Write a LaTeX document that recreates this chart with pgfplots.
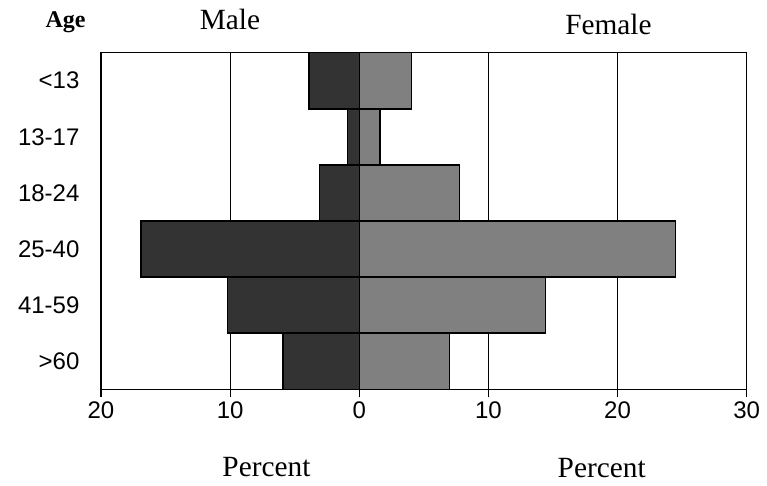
\documentclass[border=0pt]{standalone}
\usepackage{fontspec}
\setmainfont{Liberation Serif}
\setsansfont{Liberation Sans}
\usepackage{pgfplots}
\pgfplotsset{compat=1.18}
\definecolor{malegray}{HTML}{333333}
\definecolor{femalegray}{HTML}{808080}

\begin{document}
\begin{tikzpicture}[x=1pt,y=1pt]
% page = 767x485 px at 0.75pt/px, axis box at origin
\useasboundingbox (-75.75,-71.8) rectangle (499.5,292);
\begin{axis}[
  at={(0,0)}, anchor=south west,
  scale only axis, width=484.3pt, height=252.5pt,
  xmin=-20, xmax=30, ymin=-0.5, ymax=5.5,
  xtick={-20,-10,0,10,20,30}, xticklabels={20,10,0,10,20,30},
  ytick={0,1,2,3,4,5}, yticklabels={>60,41-59,25-40,18-24,13-17,<13},
  tick label style={font=\fontsize{18}{21}\selectfont\sffamily},
  xticklabel style={inner sep=0pt, anchor=north, yshift=-3pt},
  yticklabel style={inner sep=0pt, anchor=east, xshift=-10pt},
  tick align=outside, major tick length=6pt,
  xtick pos=lower, ytick style={draw=none},
  xtick style={black, line width=0.8pt},
  xmajorgrids, grid style={black, line width=0.6pt},
  axis line style={black, line width=1.1pt},
  xbar, bar width=1, bar shift=0pt,
]
% male (left, negative)
\addplot[fill=malegray, draw=black, line width=1.1pt] coordinates {
  (-3.9,5) (-0.9,4) (-3.1,3) (-16.9,2) (-10.2,1) (-5.9,0)};
% female (right)
\addplot[fill=femalegray, draw=black, line width=1.1pt] coordinates {
  (4.05,5) (1.6,4) (7.75,3) (24.5,2) (14.4,1) (7.0,0)};
\end{axis}
\node[anchor=base, font=\fontsize{18}{21}\selectfont\bfseries] at (-26.6,271) {Age};
\node[anchor=base, font=\fontsize{22}{26}\selectfont] at (96.75,270.2) {Male};
\node[anchor=base, font=\fontsize{22}{26}\selectfont] at (380.6,266.25) {Female};
\node[anchor=base, font=\fontsize{22}{26}\selectfont] at (124.1,-65.5) {Percent};
\node[anchor=base, font=\fontsize{22}{26}\selectfont] at (375.5,-66.5) {Percent};
\end{tikzpicture}
\end{document}
